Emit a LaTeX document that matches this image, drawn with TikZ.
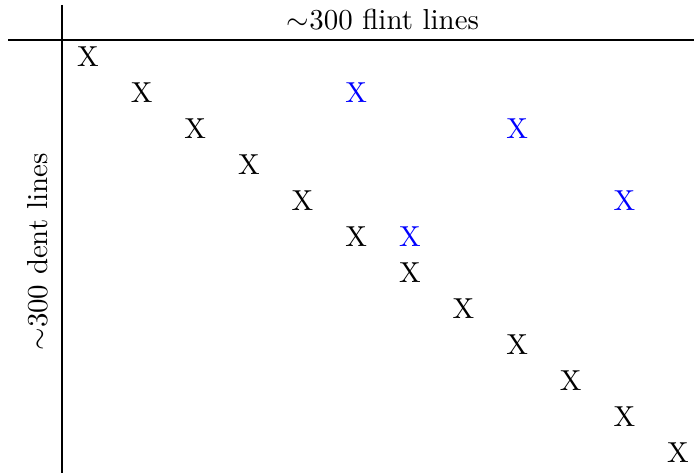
\documentclass[tikz,border=0pt]{standalone}
\begin{document}
\begin{tikzpicture}[x=0.346pt,y=-0.346pt,
  cell/.style={inner sep=0pt,anchor=center},
  hit/.style={cell,text=blue},
  rule/.style={line width=0.4pt,black}]
\useasboundingbox (0,0) rectangle (694,473);
% axes
\coordinate (vtop) at (62,5);
\coordinate (vbot) at (62,473);
\coordinate (hl) at (8,40);
\coordinate (hr) at (694,40);
\draw[rule] (vtop) -- (vbot);
\draw[rule] (hl) -- (hr);
\node[anchor=base] (flint) at (383,30) {$\sim$300 flint lines};
\node[anchor=base,rotate=90] (dent) at (47,252) {$\sim$300 dent lines};
% diagonal
\foreach \i in {0,...,11} {
  \node[cell] (d\i) at ({88+53.64*\i},{56.5+36.05*\i}) {X};
}
% off-diagonal
\node[hit] (b1) at ({88+53.64*5},{56.5+36.05*1}) {X};
\node[hit] (b2) at ({88+53.64*8},{56.5+36.05*2}) {X};
\node[hit] (b3) at ({88+53.64*10},{56.5+36.05*4}) {X};
\node[hit] (b4) at ({88+53.64*6},{56.5+36.05*5}) {X};
\end{tikzpicture}
\end{document}
